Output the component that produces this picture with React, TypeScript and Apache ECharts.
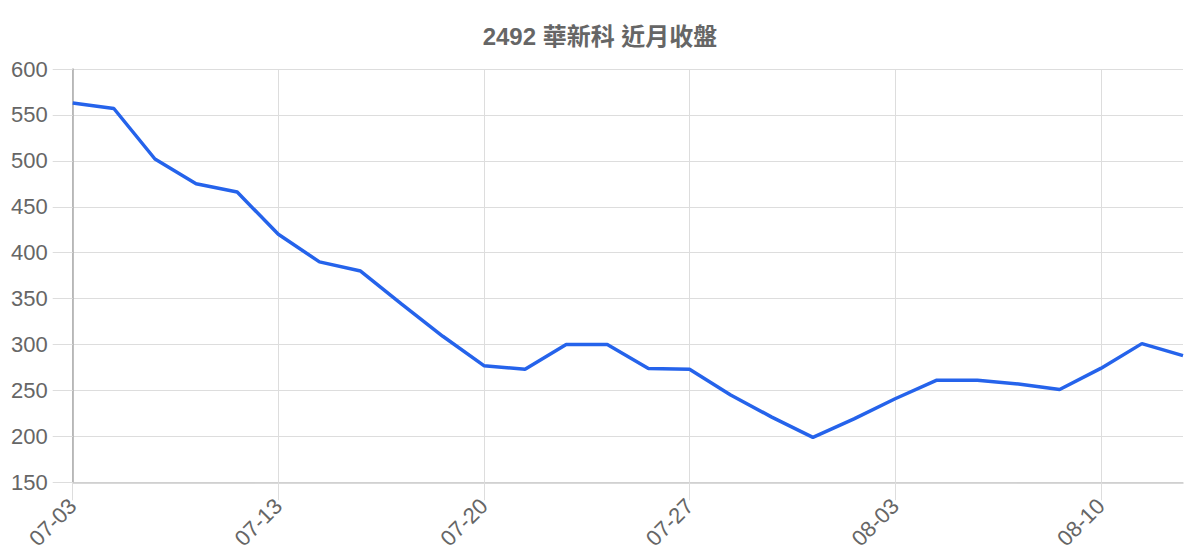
import React, { useEffect, useRef } from "react";
import * as echarts from "echarts";

const titleText = "2492 華新科 近月收盤";

const dates = [
  "07-03", "07-06", "07-07", "07-08", "07-09",
  "07-13", "07-14", "07-15", "07-16", "07-17",
  "07-20", "07-21", "07-22", "07-23", "07-24",
  "07-27", "07-28", "07-29", "07-30", "07-31",
  "08-03", "08-04", "08-05", "08-06", "08-07",
  "08-10", "08-11", "08-12",
];

const closes = [
  563, 557, 502, 475, 466,
  420, 390, 380, 344, 309,
  277, 273, 300, 300, 274,
  273, 245, 221, 199, 219,
  241, 261, 261, 257, 251,
  274, 301, 288,
];

const yMin = 150;
const yMax = 600;
const yStep = 50;

const FONT = "'Liberation Sans', Arial, 'Noto Sans CJK TC', sans-serif";

export default function App() {
  const ref = useRef<HTMLDivElement>(null);

  useEffect(() => {
    if (!ref.current) return;
    const chart = echarts.init(ref.current, undefined, { renderer: "svg" });
    chart.setOption({
      animation: false,
      backgroundColor: "#ffffff",
      title: {
        text: titleText,
        left: "center",
        top: 11,
        textStyle: {
          fontFamily: FONT,
          fontSize: 24,
          fontWeight: "bold",
          color: "#666666",
        },
      },
      grid: { left: 64, right: 9, top: 61, bottom: 68, containLabel: false },
      xAxis: {
        type: "category",
        boundaryGap: false,
        data: dates,
        axisLine: { show: true, lineStyle: { color: "#cccccc", width: 1.5 } },
        axisTick: {
          show: true,
          interval: 4,
          length: 18,
          lineStyle: { color: "#dddddd", width: 1 },
        },
        axisLabel: {
          interval: 4,
          rotate: 45,
          margin: 20,
          fontFamily: FONT,
          fontSize: 22,
          color: "#666666",
        },
        splitLine: {
          show: true,
          interval: 4,
          lineStyle: { color: "#dddddd", width: 1 },
        },
      },
      yAxis: {
        type: "value",
        min: yMin,
        max: yMax,
        interval: yStep,
        axisLine: { show: true, lineStyle: { color: "#aaaaaa", width: 1.5 } },
        axisTick: { show: true, length: 20, lineStyle: { color: "#dddddd", width: 1 } },
        axisLabel: {
          margin: 25,
          fontFamily: FONT,
          fontSize: 22,
          color: "#666666",
        },
        splitLine: { show: true, lineStyle: { color: "#dddddd", width: 1 } },
      },
      series: [
        {
          type: "line",
          data: closes,
          showSymbol: false,
          symbol: "none",
          lineStyle: { color: "#2563eb", width: 3.5 },
          itemStyle: { color: "#2563eb" },
        },
      ],
    });
    return () => chart.dispose();
  }, []);

  return <div ref={ref} style={{ width: 1184, height: 544 }} />;
}
